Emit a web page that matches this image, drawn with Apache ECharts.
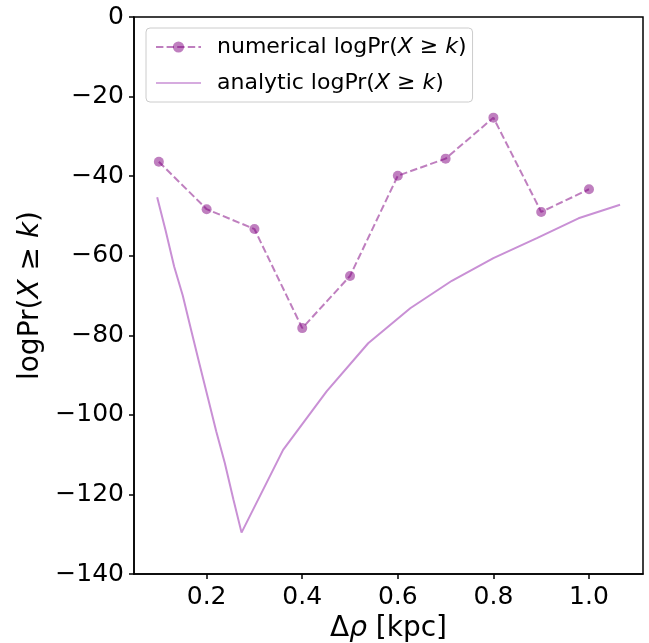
<!DOCTYPE html>
<html>
<head>
<meta charset="utf-8">
<script src="https://cdn.jsdelivr.net/npm/echarts@6/dist/echarts.min.js"></script>
<style>html,body{margin:0;padding:0;background:#fff}#c{width:649px;height:643px}</style>
</head>
<body>
<div id="c"></div>
<script>
const numX = [0.1, 0.2, 0.3, 0.4, 0.5, 0.6, 0.7, 0.8, 0.9, 1.0];
const numY = [-36.4, -48.3, -53.3, -78.2, -65.1, -39.9, -35.6, -25.3, -49.0, -43.3];
const anaX = [0.0965, 0.114, 0.132, 0.150, 0.167, 0.185, 0.203, 0.220, 0.238, 0.256, 0.273,
              0.360, 0.451, 0.538, 0.626, 0.713, 0.800, 0.891, 0.978, 1.065];
const anaY = [-45.3, -53.6, -62.7, -70.0, -78.4, -87.2, -95.9, -104.1, -112.1, -121.3, -129.6,
              -108.8, -94.1, -82.0, -73.2, -66.3, -60.6, -55.6, -50.6, -47.2];
const xTicks = [0.2, 0.4, 0.6, 0.8, 1.0];

const FONT = 'DejaVu Sans';
const TICK = 25, LAB = 28, LEG = 22;
const minus = v => (v < 0 ? '\u2212' + Math.abs(v) : String(v));
const NUM_C = 'rgba(128,0,128,0.5)';
const ANA_C = '#c990d5';
const chart = echarts.init(document.getElementById('c'));
chart.setOption({
  animation: false,
  backgroundColor: '#fff',
  textStyle: { fontFamily: FONT },
  grid: { left: 134, right: 6, top: 17, bottom: 69, show: true, borderColor: '#000', borderWidth: 1.5,
          containLabel: false, outerBoundsMode: 'none' },
  legend: {
    left: 146, top: 28, orient: 'vertical',
    padding: [6, 6, 6, 9], itemGap: 10, itemWidth: 45, itemHeight: 14,
    borderColor: '#cccccc', borderWidth: 1, borderRadius: 4,
    backgroundColor: 'rgba(255,255,255,0.8)',
    textStyle: { fontFamily: FONT, fontSize: LEG, color: '#000', lineHeight: 26, padding: [0, 0, 0, 11],
      rich: { i: { fontFamily: FONT, fontSize: LEG, fontStyle: 'italic', color: '#000', lineHeight: 26 } } },
    formatter: n => n + ' logPr({i|X} \u2265 {i|k})',
    data: [
      { name: 'numerical' },
      { name: 'analytic', icon: 'path://M0,0L0.05,0L0,0.05Z M0,6.2H45V7.8H0Z M44.95,14L45,14L45,13.95Z', itemStyle: { color: ANA_C } }
    ]
  },
  xAxis: {
    type: 'value', min: 0.048, max: 1.113,
    splitLine: { show: false },
    axisLine: { show: true, onZero: false, lineStyle: { color: '#000', width: 1.5 } },
    axisTick: { show: true, inside: false, length: 5, customValues: xTicks, lineStyle: { color: '#000', width: 1.5 } },
    axisLabel: { customValues: xTicks, margin: 11, fontFamily: FONT, fontSize: TICK, color: '#000', formatter: v => v.toFixed(1) },
    name: '{n|\u0394}{i|\u03c1}{n| [kpc]}', nameLocation: 'middle', nameGap: 39,
    nameTextStyle: { rich: { n: { fontFamily: FONT, fontSize: LAB, color: '#000' }, i: { fontFamily: FONT, fontSize: LAB, fontStyle: 'italic', color: '#000' } } }
  },
  yAxis: {
    type: 'value', min: -140, max: 0, interval: 20,
    splitLine: { show: false },
    axisLine: { show: true, onZero: false, lineStyle: { color: '#000', width: 1.5 } },
    axisTick: { show: true, inside: false, length: 5, lineStyle: { color: '#000', width: 1.5 } },
    axisLabel: { margin: 10, fontFamily: FONT, fontSize: TICK, color: '#000', formatter: minus },
    name: 'logPr({i|X} \u2265 {i|k})', nameLocation: 'middle', nameRotate: 90, nameGap: 89,
    nameTextStyle: { fontFamily: FONT, fontSize: LAB, color: '#000', rich: { i: { fontFamily: FONT, fontSize: LAB, fontStyle: 'italic', color: '#000' } } }
  },
  series: [
    {
      name: 'numerical', type: 'line',
      data: numX.map((x, i) => [x, numY[i]]),
      symbol: 'circle', symbolSize: 10, showSymbol: true,
      lineStyle: { color: NUM_C, width: 2, type: [7.4, 3.2] },
      itemStyle: { color: NUM_C, borderWidth: 0 },
      z: 3
    },
    {
      name: 'analytic', type: 'line',
      data: anaX.map((x, i) => [x, anaY[i]]),
      showSymbol: false, symbol: 'none',
      lineStyle: { color: ANA_C, width: 2 },
      itemStyle: { color: ANA_C },
      z: 2
    }
  ]
});
</script>
</body>
</html>
